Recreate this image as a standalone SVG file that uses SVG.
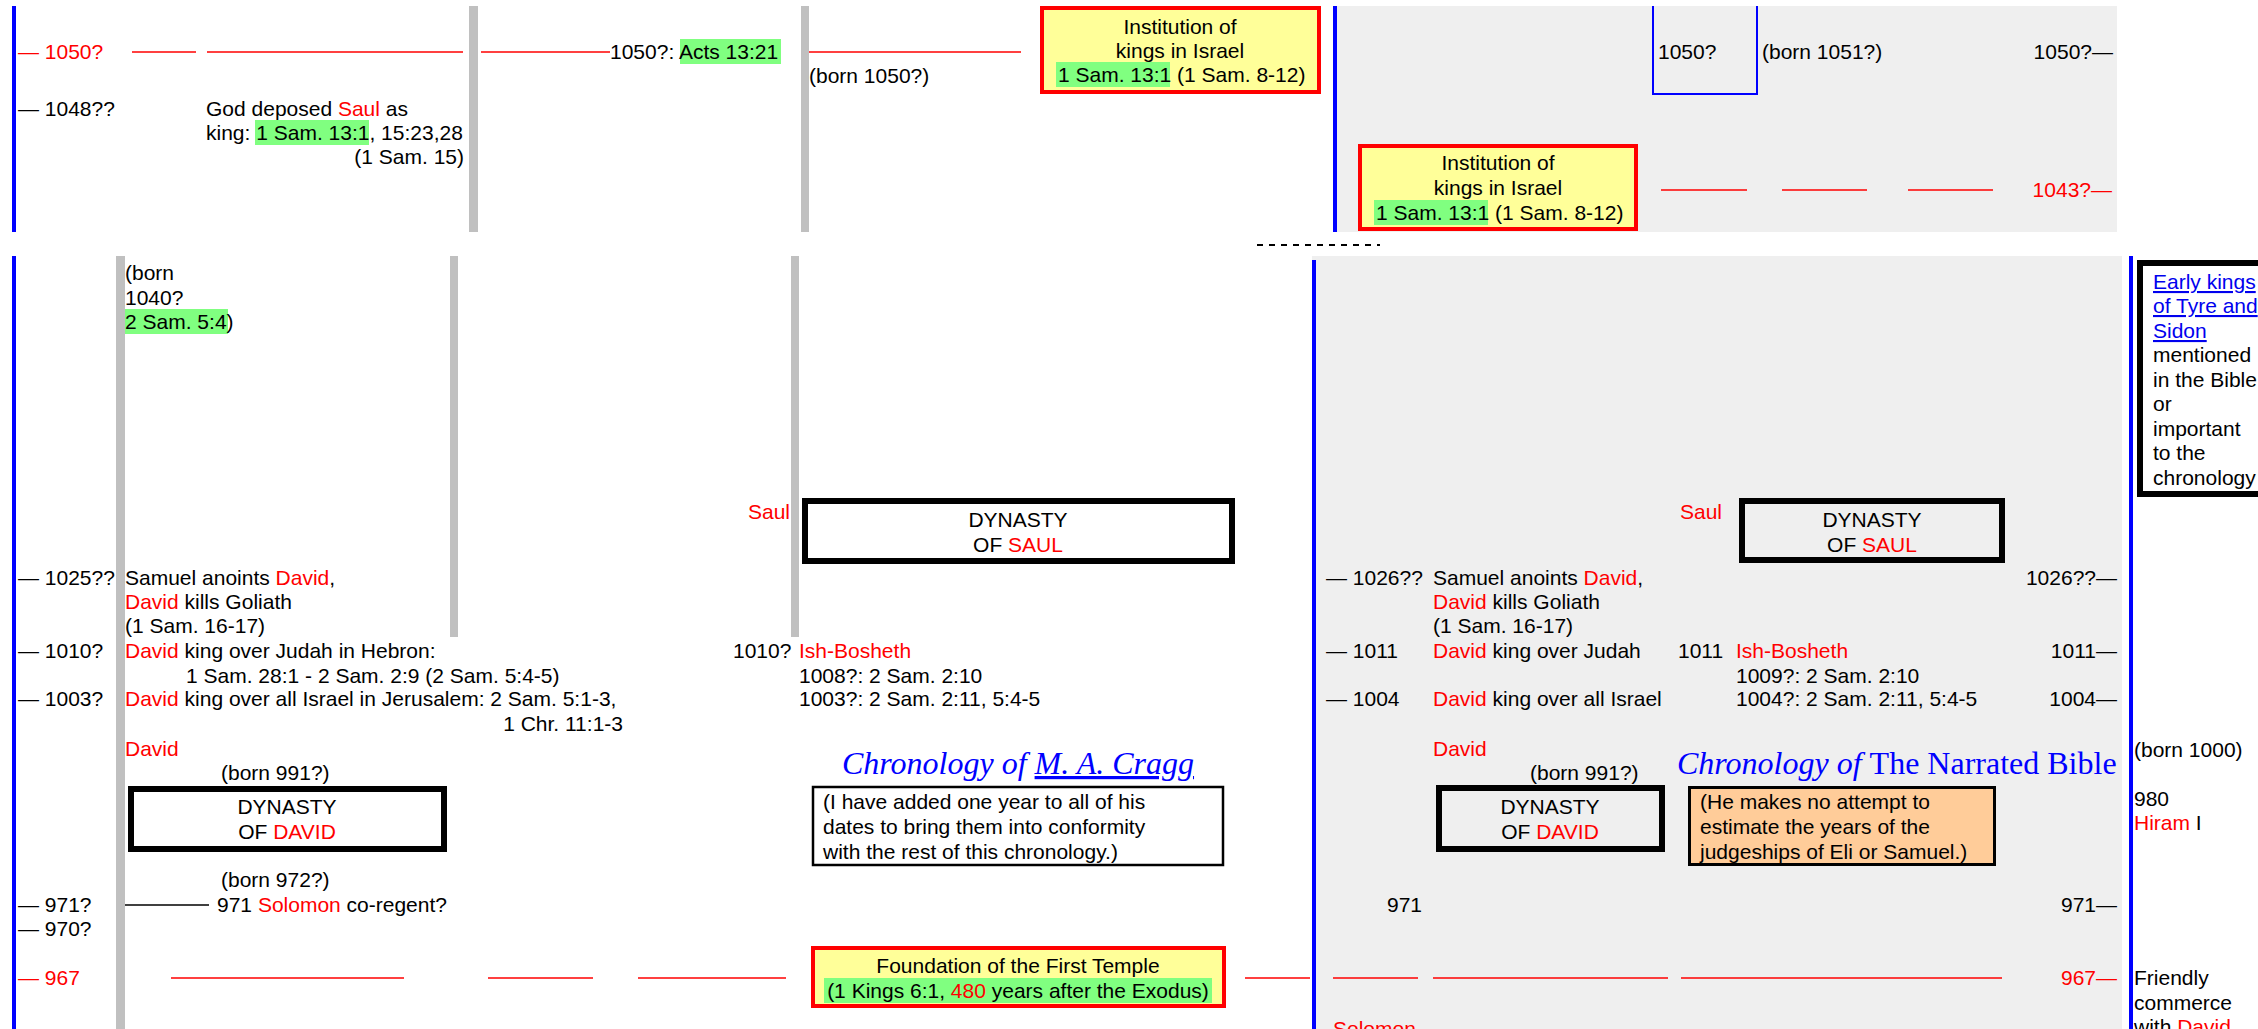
<svg xmlns="http://www.w3.org/2000/svg" width="2258" height="1029" viewBox="0 0 2258 1029">
<style>
text{font-family:"Liberation Sans",Arial,sans-serif;font-size:21px;fill:#000}
.r{fill:#f00}
.lk{fill:#0000ee;text-decoration:underline}
.c{text-anchor:middle}
.e{text-anchor:end}
.hl{fill:#80ff80}
.dash{stroke:#f00;stroke-width:1.6}
.bar{fill:#c0c0c0}
.vb{fill:#00f}
.bg{fill:#efefef}
.dyn{fill:none;stroke:#000;stroke-width:6}
.inst{fill:#ffff99;stroke:#f00;stroke-width:4}
.ttl{font-family:"Liberation Serif","Times New Roman",serif;font-size:32px;fill:#00f}
.it{font-style:italic}
</style>
<rect width="2258" height="1029" fill="#fff"/>
<g id="panels">
<rect class="bg" x="1337" y="6" width="780" height="226"/>
<rect class="vb" x="12" y="6" width="4" height="226"/>
<rect class="bar" x="469" y="6" width="9" height="226"/>
<rect class="bar" x="801" y="6" width="8" height="226"/>
<rect class="vb" x="1333" y="6" width="4" height="226"/>
<path d="M1653,6V94H1757V6" fill="none" stroke="#00f" stroke-width="2"/>
<line x1="1257" y1="245" x2="1380" y2="245" stroke="#000" stroke-width="2" stroke-dasharray="6,6"/>
<rect class="bg" x="1312" y="256" width="810" height="773"/>
<rect class="vb" x="12" y="256" width="4" height="773"/>
<rect class="bar" x="116" y="256" width="9" height="773"/>
<rect class="bar" x="450" y="256" width="8" height="381"/>
<rect class="bar" x="791" y="256" width="8" height="381"/>
<rect class="vb" x="1312" y="260" width="4" height="769"/>
<rect class="vb" x="2129" y="256" width="4" height="773"/>
</g>
<g id="connectors">
<line class="dash" x1="132" y1="52" x2="196" y2="52"/>
<line class="dash" x1="207" y1="52" x2="463" y2="52"/>
<line class="dash" x1="481" y1="52" x2="610" y2="52"/>
<line class="dash" x1="809" y1="52" x2="1021" y2="52"/>
<line class="dash" x1="1661" y1="190" x2="1747" y2="190"/>
<line class="dash" x1="1782" y1="190" x2="1867" y2="190"/>
<line class="dash" x1="1908" y1="190" x2="1993" y2="190"/>
<line x1="125" y1="905" x2="209" y2="905" stroke="#000" stroke-width="1.6"/>
<line class="dash" x1="171" y1="978" x2="404" y2="978"/>
<line class="dash" x1="488" y1="978" x2="593" y2="978"/>
<line class="dash" x1="638" y1="978" x2="786" y2="978"/>
<line class="dash" x1="1245" y1="978" x2="1310" y2="978"/>
<line class="dash" x1="1333" y1="978" x2="1418" y2="978"/>
<line class="dash" x1="1433" y1="978" x2="1668" y2="978"/>
<line class="dash" x1="1681" y1="978" x2="2002" y2="978"/>
</g>
<g id="top-left">
<text class="r" x="18" y="59">— 1050?</text>
<text x="18" y="116">— 1048??</text>
<text x="206" y="116">God deposed <tspan class="r">Saul</tspan> as</text>
<rect class="hl" x="255" y="120" width="114" height="25"/>
<text x="206" y="140">king: 1 Sam. 13:1, 15:23,28</text>
<text class="e" x="464" y="164">(1 Sam. 15)</text>
<rect class="hl" x="680" y="39" width="101" height="25"/>
<text x="610" y="59">1050?: Acts 13:21</text>
<text x="809" y="83">(born 1050?)</text>
</g>
<g id="institution-1">
<rect class="inst" x="1042" y="8" width="277" height="84"/>
<text class="c" x="1180" y="34">Institution of</text>
<text class="c" x="1180" y="58">kings in Israel</text>
<rect class="hl" x="1056" y="62" width="114" height="25"/>
<text x="1058" y="82">1 Sam. 13:1 (1 Sam. 8-12)</text>
</g>
<g id="top-right">
<text x="1658" y="59">1050?</text>
<text x="1762" y="59">(born 1051?)</text>
<text class="e" x="2113" y="59">1050?—</text>
<text class="r e" x="2112" y="197">1043?—</text>
</g>
<g id="institution-2">
<rect class="inst" x="1360" y="146" width="276" height="83"/>
<text class="c" x="1498" y="170">Institution of</text>
<text class="c" x="1498" y="195">kings in Israel</text>
<rect class="hl" x="1374" y="200" width="114" height="25"/>
<text x="1376" y="220">1 Sam. 13:1 (1 Sam. 8-12)</text>
</g>
<g id="left-timeline">
<text x="125" y="280">(born</text>
<text x="125" y="305">1040?</text>
<rect class="hl" x="125" y="309" width="103" height="25"/>
<text x="125" y="329">2 Sam. 5:4)</text>
<text x="18" y="585">— 1025??</text>
<text x="125" y="585">Samuel anoints <tspan class="r">David</tspan>,</text>
<text x="125" y="609"><tspan class="r">David</tspan> kills Goliath</text>
<text x="125" y="633">(1 Sam. 16-17)</text>
<text x="18" y="658">— 1010?</text>
<text x="125" y="658"><tspan class="r">David</tspan> king over Judah in Hebron:</text>
<text x="186" y="683">1 Sam. 28:1 - 2 Sam. 2:9 (2 Sam. 5:4-5)</text>
<text x="18" y="706">— 1003?</text>
<text x="125" y="706"><tspan class="r">David</tspan> king over all Israel in Jerusalem: 2 Sam. 5:1-3,</text>
<text class="e" x="623" y="731">1 Chr. 11:1-3</text>
<text class="r" x="125" y="756">David</text>
<text x="221" y="780">(born 991?)</text>
<text x="221" y="887">(born 972?)</text>
<text x="18" y="912">— 971?</text>
<text x="217" y="912">971 <tspan class="r">Solomon</tspan> co-regent?</text>
<text x="18" y="936">— 970?</text>
<text class="r" x="18" y="985">— 967</text>
<text x="733" y="658">1010?</text>
<text class="r" x="799" y="658">Ish-Bosheth</text>
<text x="799" y="683">1008?: 2 Sam. 2:10</text>
<text x="799" y="706">1003?: 2 Sam. 2:11, 5:4-5</text>
<text class="r e" x="790" y="519">Saul</text>
</g>
<g id="dynasty-saul-1">
<rect class="dyn" x="805" y="501" width="427" height="60"/>
<text class="c" x="1018" y="527">DYNASTY</text>
<text class="c" x="1018" y="552">OF <tspan class="r">SAUL</tspan></text>
</g>
<g id="dynasty-david-1">
<rect class="dyn" x="131" y="789" width="313" height="60"/>
<text class="c" x="287" y="814">DYNASTY</text>
<text class="c" x="287" y="839">OF <tspan class="r">DAVID</tspan></text>
</g>
<g id="cragg">
<text class="ttl" x="842" y="774"><tspan class="it">Chronology of </tspan><tspan class="it" text-decoration="underline">M. A. Cragg</tspan></text>
<rect x="813" y="787" width="410" height="78" fill="#fff" stroke="#000" stroke-width="2.5"/>
<text x="823" y="809">(I have added one year to all of his</text>
<text x="823" y="834">dates to bring them into conformity</text>
<text x="823" y="859">with the rest of this chronology.)</text>
</g>
<g id="temple">
<rect class="inst" x="813" y="948" width="411" height="58"/>
<text class="c" x="1018" y="973">Foundation of the First Temple</text>
<rect class="hl" x="824" y="978" width="388" height="25"/>
<text class="c" x="1018" y="998">(1 Kings 6:1, <tspan class="r">480</tspan> years after the Exodus)</text>
</g>
<g id="right-timeline">
<text x="1326" y="585">— 1026??</text>
<text x="1433" y="585">Samuel anoints <tspan class="r">David</tspan>,</text>
<text x="1433" y="609"><tspan class="r">David</tspan> kills Goliath</text>
<text x="1433" y="633">(1 Sam. 16-17)</text>
<text class="e" x="2117" y="585">1026??—</text>
<text x="1326" y="658">— 1011</text>
<text x="1433" y="658"><tspan class="r">David</tspan> king over Judah</text>
<text x="1678" y="658">1011</text>
<text class="r" x="1736" y="658">Ish-Bosheth</text>
<text class="e" x="2117" y="658">1011—</text>
<text x="1736" y="683">1009?: 2 Sam. 2:10</text>
<text x="1326" y="706">— 1004</text>
<text x="1433" y="706"><tspan class="r">David</tspan> king over all Israel</text>
<text x="1736" y="706">1004?: 2 Sam. 2:11, 5:4-5</text>
<text class="e" x="2117" y="706">1004—</text>
<text class="r" x="1433" y="756">David</text>
<text x="1530" y="780">(born 991?)</text>
<text class="e" x="1422" y="912">971</text>
<text class="e" x="2117" y="912">971—</text>
<text class="r e" x="2117" y="985">967—</text>
<text class="r" x="1333" y="1036">Solomon</text>
<text class="r" x="1680" y="519">Saul</text>
</g>
<g id="dynasty-saul-2">
<rect class="dyn" x="1742" y="501" width="260" height="59"/>
<text class="c" x="1872" y="527">DYNASTY</text>
<text class="c" x="1872" y="552">OF <tspan class="r">SAUL</tspan></text>
</g>
<g id="dynasty-david-2">
<rect class="dyn" x="1439" y="788" width="223" height="61"/>
<text class="c" x="1550" y="814">DYNASTY</text>
<text class="c" x="1550" y="839">OF <tspan class="r">DAVID</tspan></text>
</g>
<g id="narrated-bible">
<text class="ttl" x="1677" y="774"><tspan class="it">Chronology of </tspan>The Narrated Bible</text>
<rect x="1689.5" y="787.5" width="305" height="77" fill="#ffcc99" stroke="#000" stroke-width="3"/>
<text x="1700" y="809">(He makes no attempt to</text>
<text x="1700" y="834">estimate the years of the</text>
<text x="1700" y="859">judgeships of Eli or Samuel.)</text>
</g>
<g id="tyre-sidon">
<rect x="2140" y="263" width="200" height="231" fill="#fff" stroke="#000" stroke-width="6"/>
<text class="lk" x="2153" y="289">Early kings</text>
<text class="lk" x="2153" y="313">of Tyre and</text>
<text class="lk" x="2153" y="338">Sidon</text>
<text x="2153" y="362">mentioned</text>
<text x="2153" y="387">in the Bible</text>
<text x="2153" y="411">or</text>
<text x="2153" y="436">important</text>
<text x="2153" y="460">to the</text>
<text x="2153" y="485">chronology</text>
<text x="2134" y="757">(born 1000)</text>
<text x="2134" y="806">980</text>
<text x="2134" y="830"><tspan class="r">Hiram</tspan> I</text>
<text x="2134" y="985">Friendly</text>
<text x="2134" y="1010">commerce</text>
<text x="2134" y="1034">with <tspan class="r">David</tspan></text>
</g>
</svg>
